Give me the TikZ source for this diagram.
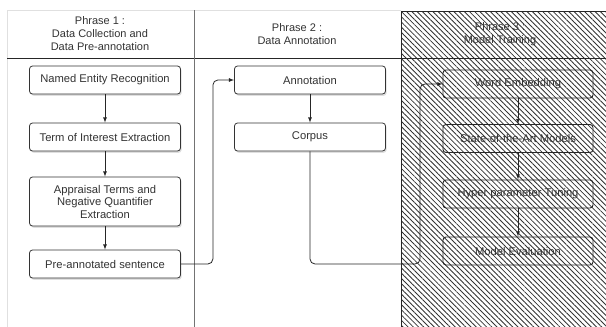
\documentclass[tikz,border=0pt]{standalone}
\usepackage{fontspec}
\setmainfont{Liberation Sans}
\usetikzlibrary{arrows.meta}
\usetikzlibrary{patterns.meta}
\usetikzlibrary{shadows}

\begin{document}
\begin{tikzpicture}[x=1pt, y=-1pt,
    box/.style={draw=black!80, line width=0.8pt, rounded corners=3pt, minimum width=151pt, minimum height=28pt,
        align=center, font=\fontsize{11.2}{12.5}\selectfont, text=black!80, fill=white,
        drop shadow={opacity=0.25, shadow xshift=1.2pt, shadow yshift=-1.8pt}},
    hatchbox/.style={draw=black!85, line width=0.9pt, rounded corners=3pt, minimum width=150pt, minimum height=28pt,
        align=center, font=\fontsize{11.2}{12.5}\selectfont, text=black!80},
    phase/.style={align=center, font=\fontsize{11}{13}\selectfont, text=black!80},
    link/.style={draw=black!85, line width=0.8pt, -latex, rounded corners=5pt}]
    \useasboundingbox (0, 0) rectangle (606, 327);
    % lanes
    \draw[black!12] (7, 327) -- (7, 10) -- (401, 10);
    \fill[pattern={Lines[angle=-45, distance=3.7pt, line width=0.85pt]}, pattern color=black!80]
        (401, 11) rectangle (606, 327);
    \draw[black!85, line width=0.9pt] (401, 327) -- (401, 11) -- (606, 11);
    \draw[black!85, line width=0.8pt] (7, 58) -- (606, 58);
    \draw[black!55, line width=0.8pt] (194, 10) -- (194, 327);
    \node[phase] (phase1) at (100, 34) {Phrase 1 :\\Data Collection and\\Data Pre-annotation};
    \node[phase] (phase2) at (297, 34) {Phrase 2 :\\Data Annotation};
    \node[phase] (phase3) at (500, 34) {Phrase 3 :\\Model Training};
    % phase 1
    \node[box] (ner) at (105, 80) {Named Entity Recognition};
    \node[box] (toi) at (105, 137) {Term of Interest Extraction};
    \node[box, minimum height=49pt] (appraisal) at (105, 201.5) {Appraisal Terms and\\Negative Quantifier\\Extraction};
    \node[box] (preann) at (105, 264) {Pre-annotated sentence};
    % phase 2
    \node[box] (annot) at (310, 80) {Annotation};
    \node[box] (corpus) at (310, 137) {Corpus};
    % phase 3
    \node[hatchbox] (embed) at (518, 84) {Word Embedding};
    \node[hatchbox] (sota) at (518, 138.5) {State-of-the-Art Models};
    \node[hatchbox] (hyper) at (518, 194) {Hyper parameter Tuning};
    \node[hatchbox] (evalu) at (518, 251) {Model Evaluation};
    % arrows
    \draw[link] (ner) -- (toi);
    \draw[link] (toi) -- (appraisal);
    \draw[link] (appraisal) -- (preann);
    \draw[link] (annot) -- (corpus);
    \draw[link] (embed) -- (sota);
    \draw[link] (sota) -- (hyper);
    \draw[link] (hyper) -- (evalu);
    \draw[link] (preann.east) -- ++(32, 0) |- (annot.west);
    \draw[link] (corpus.south) |- (420, 264) |- (embed.west);
\end{tikzpicture}
\end{document}
